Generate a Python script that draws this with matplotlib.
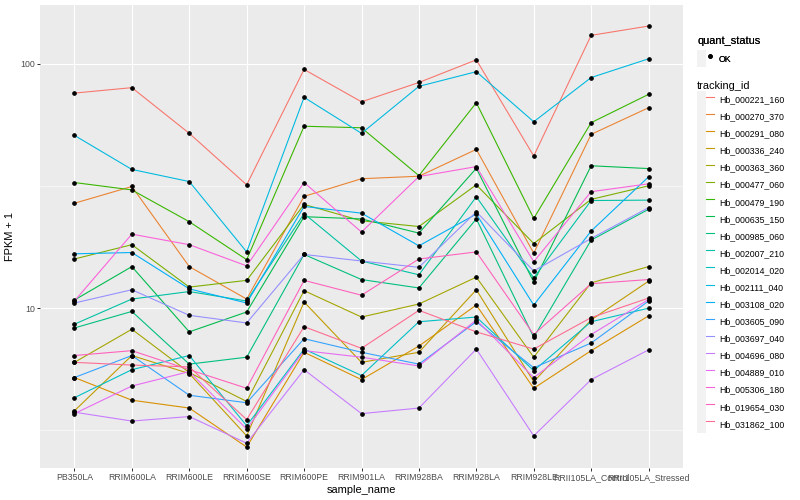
import matplotlib.pyplot as plt
from matplotlib.lines import Line2D
from matplotlib.patches import Patch
from matplotlib.legend_handler import HandlerTuple
from matplotlib.ticker import NullFormatter

samples = ['PB350LA', 'RRIM600LA', 'RRIM600LE', 'RRIM600SE', 'RRIM600PE',
           'RRIM901LA', 'RRIM928BA', 'RRIM928LA', 'RRIM928LE',
           'RRII105LA_Control', 'RRII105LA_Stressed']

# FPKM + 1 per transcript, one value per sample
hb_000221_160 = [76, 80, 52, 32, 95, 70, 84, 104, 42, 131, 143]
hb_000270_370 = [26.9, 31.5, 14.8, 10.9, 28.7, 33.9, 34.7, 44.7, 16.8, 51.5, 66.2]
hb_000291_080 = [5.2, 4.2, 3.9, 2.7, 6.6, 5.1, 7.0, 10.3, 4.7, 6.7, 9.3]
hb_000336_240 = [3.8, 6.4, 5.4, 3.0, 10.6, 6.0, 6.6, 11.9, 5.0, 8.95, 12.9]
hb_000363_360 = [6.0, 8.2, 5.45, 4.15, 11.8, 9.2, 10.4, 13.4, 6.3, 12.7, 14.8]
hb_000477_060 = [15.9, 18.2, 12.2, 13.0, 26.6, 22.8, 21.6, 32.0, 18.4, 27.9, 31.7]
hb_000479_190 = [32.7, 30.5, 22.6, 15.8, 55.6, 54.8, 34.9, 69.4, 23.3, 57.5, 75.1]
hb_000635_150 = [10.8, 14.8, 8.0, 9.65, 23.7, 23.2, 20.3, 37.4, 12.8, 38.3, 37.3]
hb_000985_060 = [8.3, 9.7, 5.9, 6.3, 16.6, 13.1, 12.1, 23.2, 7.6, 19.0, 25.4]
hb_002007_210 = [8.6, 10.9, 11.7, 10.7, 24.4, 15.6, 13.7, 28.6, 13.3, 27.6, 27.7]
hb_002014_020 = [4.3, 5.6, 6.4, 3.3, 6.8, 5.3, 8.8, 9.2, 5.55, 8.8, 10.0]
hb_002111_040 = [51, 37, 33, 17, 73, 52, 81, 93, 58, 88, 105]
hb_003108_020 = [16.7, 16.9, 12.0, 10.5, 26.1, 24.5, 18.0, 24.3, 10.3, 20.7, 34.5]
hb_003605_090 = [5.2, 6.4, 4.4, 4.1, 7.5, 6.6, 5.9, 8.8, 5.7, 7.2, 10.7]
hb_003697_040 = [10.5, 11.9, 9.35, 8.7, 16.6, 15.6, 14.7, 24.8, 14.2, 19.3, 25.8]
hb_004696_080 = [3.75, 3.45, 3.6, 2.8, 5.6, 3.7, 3.9, 6.8, 3.0, 5.1, 6.75]
hb_004889_010 = [3.7, 4.8, 5.5, 3.2, 6.7, 6.3, 5.8, 8.95, 5.2, 7.8, 10.85]
hb_005306_180 = [10.7, 20.1, 18.2, 14.9, 32.7, 20.5, 34.6, 38.0, 15.5, 30.0, 32.3]
hb_019654_030 = [6.4, 6.7, 5.6, 4.7, 13.0, 11.3, 15.9, 17.0, 7.8, 12.6, 13.1]
hb_031862_100 = [6.0, 5.85, 5.75, 3.5, 8.4, 6.85, 9.8, 8.0, 6.8, 9.15, 11.0]

tracking_ids = ['Hb_000221_160', 'Hb_000270_370', 'Hb_000291_080', 'Hb_000336_240',
                'Hb_000363_360', 'Hb_000477_060', 'Hb_000479_190', 'Hb_000635_150',
                'Hb_000985_060', 'Hb_002007_210', 'Hb_002014_020', 'Hb_002111_040',
                'Hb_003108_020', 'Hb_003605_090', 'Hb_003697_040', 'Hb_004696_080',
                'Hb_004889_010', 'Hb_005306_180', 'Hb_019654_030', 'Hb_031862_100']
series = [hb_000221_160, hb_000270_370, hb_000291_080, hb_000336_240, hb_000363_360,
          hb_000477_060, hb_000479_190, hb_000635_150, hb_000985_060, hb_002007_210,
          hb_002014_020, hb_002111_040, hb_003108_020, hb_003605_090, hb_003697_040,
          hb_004696_080, hb_004889_010, hb_005306_180, hb_019654_030, hb_031862_100]

# ggplot2 default hue palette, 20 levels
colors = ['#F8766D', '#EA8331', '#D89000', '#C09B00', '#A3A500', '#7CAE00', '#39B600',
          '#00BB4E', '#00BF7D', '#00C1A3', '#00BFC4', '#00BAE0', '#00B0F6', '#35A2FF',
          '#9590FF', '#C77CFF', '#E76BF3', '#FA62DB', '#FF62BC', '#FF6C91']

plt.rcParams['font.family'] = ['Liberation Sans', 'DejaVu Sans']

fig = plt.figure(figsize=(800 / 72, 500 / 72), dpi=72)
ax = fig.add_axes([40 / 800, 1 - 468 / 500, 643 / 800, 463 / 500])
ax.set_facecolor('#EBEBEB')
for s in ax.spines.values():
    s.set_visible(False)

x = list(range(len(samples)))
for vals, c in zip(series, colors):
    ax.plot(x, vals, color=c, lw=1.1, zorder=3)
for vals in series:
    ax.plot(x, vals, 'o', color='black', ms=3.6, zorder=4)

ax.set_yscale('log')
ax.set_ylim(2.216, 174.4)
ax.set_xlim(-0.6, 10.6)

ax.set_yticks([10, 100])
ax.set_yticklabels(['10', '100'])
ax.set_yticks([10 ** 0.5, 10 ** 1.5], minor=True)
ax.yaxis.set_minor_formatter(NullFormatter())
ax.set_xticks(x)
ax.set_xticklabels(samples)

ax.grid(which='major', color='white', lw=1.1, zorder=0)
ax.grid(which='minor', axis='y', color='white', lw=0.55, zorder=0)
ax.set_axisbelow(True)
ax.tick_params(which='major', length=2.75, width=1.0, color='#333333',
               labelsize=8.8, labelcolor='#4D4D4D', pad=2.2)
ax.tick_params(which='minor', length=0)

ax.set_xlabel('sample_name', fontsize=11, labelpad=3)
ax.set_ylabel('FPKM + 1', fontsize=11, labelpad=5)

key_bg = '#F2F2F2'
h1 = [(Patch(facecolor=key_bg, edgecolor='none'),
       Line2D([], [], ls='none', marker='o', color='black', ms=3.6))]
leg1 = fig.legend(h1, ['OK'], title='quant_status', loc='upper left',
                  bbox_to_anchor=(697 / 800, 1 - 36 / 500), frameon=False,
                  fontsize=8.8, title_fontsize=11, alignment='left',
                  handlelength=1.96, handleheight=2.61, handletextpad=0.55,
                  borderpad=0, borderaxespad=0,
                  handler_map={tuple: HandlerTuple(ndivide=None)})
fig.add_artist(leg1)

h2 = [(Patch(facecolor=key_bg, edgecolor='none'), Line2D([], [], color=c, lw=1.1))
      for c in colors]
fig.legend(h2, tracking_ids, title='tracking_id', loc='upper left',
           bbox_to_anchor=(697 / 800, 1 - 81 / 500), frameon=False,
           fontsize=8.8, title_fontsize=11, alignment='left',
           handlelength=1.96, handleheight=2.61, handletextpad=0.55,
           labelspacing=0.0, borderpad=0, borderaxespad=0,
           handler_map={tuple: HandlerTuple(ndivide=None)})

fig.savefig('out.png', dpi=72)
